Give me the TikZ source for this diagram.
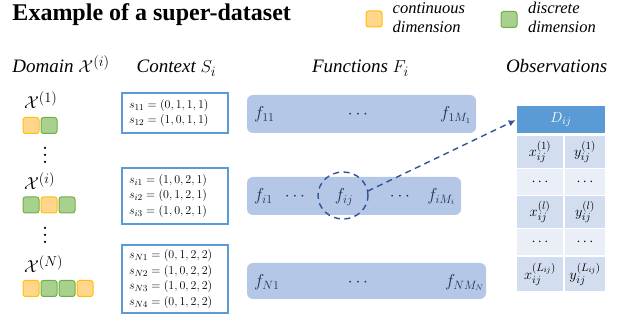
\documentclass[tikz,border=0pt]{standalone}
\usepackage{fontspec}
\setmainfont{Liberation Serif}
\usetikzlibrary{arrows.meta,shapes.geometric}

\definecolor{contfill}{HTML}{FFD68C}
\definecolor{contedge}{HTML}{FFC000}
\definecolor{discfill}{HTML}{A9D18E}
\definecolor{discedge}{HTML}{70AD47}
\definecolor{ctxblue}{HTML}{5B9BD5}
\definecolor{barblue}{HTML}{B4C7E7}
\definecolor{ringblue}{HTML}{2F5597}
\definecolor{fnavy}{HTML}{1F3056}
\definecolor{headblue}{HTML}{5B9BD5}
\definecolor{banddark}{HTML}{D2DEEF}
\definecolor{bandlight}{HTML}{EAEFF7}

\begin{document}
\begin{tikzpicture}[x=1pt,y=-1pt,
  every node/.style={inner sep=0pt, outer sep=0pt},
  cont/.style={draw=contedge, fill=contfill, line width=1pt, rounded corners=2.5pt,
    minimum width=16pt, minimum height=16pt},
  disc/.style={cont, draw=discedge, fill=discfill},
  colhead/.style={anchor=base west, font=\itshape\fontsize{19}{19}\selectfont},
  legendtext/.style={anchor=base west, font=\itshape\fontsize{16.5}{16.5}\selectfont},
  domlabel/.style={anchor=base west, font=\fontsize{19}{19}\selectfont},
  ctxbox/.style={draw=ctxblue, line width=1.2pt, fill=white, text width=92pt,
    inner xsep=7pt, align=left, font=\fontsize{13}{15.5}\selectfont},
  fbar/.style={fill=barblue, rounded corners=6pt},
  flabel/.style={text=fnavy, font=\fontsize{17}{17}\selectfont},
  ring/.style={ellipse, draw=ringblue, line width=1.4pt, dash pattern=on 6pt off 4.5pt,
    minimum width=50pt, minimum height=47pt},
  link/.style={draw=ringblue, line width=1.4pt, dash pattern=on 6pt off 4.5pt,
    -{Latex[length=7pt,width=6.5pt]}, shorten >=1.5pt},
  tabhead/.style={fill=headblue, text=white, font=\fontsize{15}{15}\selectfont},
  banda/.style={fill=banddark, font=\fontsize{15.5}{15.5}\selectfont},
  bandb/.style={fill=bandlight, font=\fontsize{15.5}{15.5}\selectfont},
]
\useasboundingbox (0,0) rectangle (622,323);

% title and legend
\node[anchor=base west, font=\bfseries\fontsize{24}{24}\selectfont] (title) at (12.5,21) {Example of a super-dataset};
\node[cont] (legcont) at (374,19) {};
\node[legendtext] (legcont1) at (392.7,13.5) {continuous};
\node[legendtext] (legcont2) at (392.7,33) {dimension};
\node[disc] (legdisc) at (509,19.5) {};
\node[legendtext] (legdisc1) at (528,13.5) {discrete};
\node[legendtext] (legdisc2) at (528,33) {dimension};

% column headers
\node[colhead] (hdom) at (12.5,73) {Domain $\mathcal{X}^{(i)}$};
\node[colhead] (hctx) at (136.7,73) {Context $S_i$};
\node[colhead] (hfun) at (312,73) {Functions $F_i$};
\node[colhead] (hobs) at (506,73) {Observations};

% domains
\node[domlabel] (dom1) at (24,109) {$\mathcal{X}^{(1)}$};
\node[cont] (d1a) at (31,125.5) {};
\node[disc] (d1b) at (49,125.5) {};
\foreach \yy in {148,155,162} \fill (45,\yy) circle (1.25pt);
\node[domlabel] (domi) at (24,190) {$\mathcal{X}^{(i)}$};
\node[disc] (dia) at (31,205) {};
\node[cont] (dib) at (49,205) {};
\node[disc] (dic) at (67,205) {};
\foreach \yy in {228,235,242} \fill (45,\yy) circle (1.25pt);
\node[domlabel] (domN) at (24,273) {$\mathcal{X}^{(N)}$};
\node[cont] (dNa) at (31,288.5) {};
\node[disc] (dNb) at (49,288.5) {};
\node[disc] (dNc) at (67,288.5) {};
\node[cont] (dNd) at (85,288.5) {};

% contexts
\node[ctxbox, minimum height=40pt] (ctx1) at (175,113) {%
  $s_{11}=(0,1,1,1)$\\ $s_{12}=(1,0,1,1)$};
\node[ctxbox, minimum height=56pt] (ctxi) at (175,196) {%
  $s_{i1}=(1,0,2,1)$\\ $s_{i2}=(0,1,2,1)$\\ $s_{i3}=(1,0,2,1)$};
\node[ctxbox, minimum height=68pt] (ctxN) at (175,279) {%
  $s_{N1}=(0,1,2,2)$\\ $s_{N2}=(1,0,2,2)$\\ $s_{N3}=(1,0,2,2)$\\ $s_{N4}=(0,1,2,2)$};

% function bars
\node[fbar, minimum width=229pt, minimum height=38pt] (bar1) at (361.5,114) {};
\node[flabel, anchor=base west] (f11) at (254,119) {$f_{11}$};
\node[flabel, anchor=base] (c11) at (358,119) {$\cdots$};
\node[flabel, anchor=base east] (f1M) at (471,119) {$f_{1M_1}$};

\node[fbar, minimum width=214pt, minimum height=38pt] (bari) at (354,196) {};
\node[flabel, anchor=base west] (fi1) at (254,200.5) {$f_{i1}$};
\node[flabel, anchor=base] (ci1) at (295,200.5) {$\cdots$};
\node[ring] (ring) at (343,195.5) {};
\node[flabel, anchor=base] (fij) at (344,200.5) {$f_{ij}$};
\node[flabel, anchor=base] (ci2) at (400,200.5) {$\cdots$};
\node[flabel, anchor=base east] (fiM) at (455,200.5) {$f_{iM_i}$};

\node[fbar, minimum width=239pt, minimum height=36pt] (barN) at (366.5,281) {};
\node[flabel, anchor=base west] (fN1) at (254,286.5) {$f_{N1}$};
\node[flabel, anchor=base] (cN1) at (358,286.5) {$\cdots$};
\node[flabel, anchor=base east] (fNM) at (484,286.5) {$f_{NM_N}$};

% observation table
\node[tabhead, minimum width=88pt, minimum height=27pt] (dhead) at (561,119.5) {$D_{ij}$};
\node[banda, minimum width=46pt, minimum height=32pt] (x1) at (540,152) {$x_{ij}^{(1)}$};
\node[banda, minimum width=40pt, minimum height=32pt] (y1) at (585,152) {$y_{ij}^{(1)}$};
\node[bandb, minimum width=46pt, minimum height=26pt] (xd1) at (540,182) {$\cdots$};
\node[bandb, minimum width=40pt, minimum height=26pt] (yd1) at (585,182) {$\cdots$};
\node[banda, minimum width=46pt, minimum height=32pt] (xl) at (540,212) {$x_{ij}^{(l)}$};
\node[banda, minimum width=40pt, minimum height=32pt] (yl) at (585,212) {$y_{ij}^{(l)}$};
\node[bandb, minimum width=46pt, minimum height=26pt] (xd2) at (540,242) {$\cdots$};
\node[bandb, minimum width=40pt, minimum height=26pt] (yd2) at (585,242) {$\cdots$};
\node[banda, minimum width=46pt, minimum height=34pt] (xL) at (540,274) {$x_{ij}^{(L_{ij})}$};
\node[banda, minimum width=40pt, minimum height=34pt] (yL) at (585,274) {$y_{ij}^{(L_{ij})}$};

% link from the selected function to its data
\draw[link] (ring.10) -- (dhead.west);
\end{tikzpicture}
\end{document}
